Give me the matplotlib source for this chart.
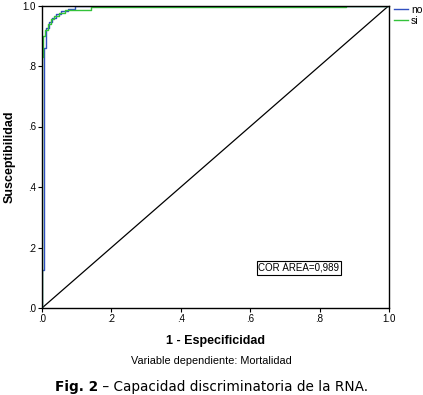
import matplotlib

matplotlib.use("Agg")
import matplotlib.pyplot as plt

# ROC steps (1 - especificidad, susceptibilidad)
no_fpr = [0.0, 0.0, 0.005, 0.005, 0.012, 0.012, 0.02, 0.02, 0.03, 0.03, 0.04, 0.04,
          0.055, 0.055, 0.075, 0.075, 0.095, 0.095, 1.0]
no_tpr = [0.0, 0.125, 0.125, 0.86, 0.86, 0.925, 0.925, 0.945, 0.945, 0.96, 0.96, 0.972,
          0.972, 0.982, 0.982, 0.99, 0.99, 1.0, 1.0]
si_fpr = [0.0, 0.0, 0.003, 0.003, 0.01, 0.01, 0.016, 0.016, 0.025, 0.025, 0.035, 0.035,
          0.05, 0.05, 0.065, 0.065, 0.14, 0.14, 0.875, 0.875, 1.0]
si_tpr = [0.0, 0.83, 0.83, 0.9, 0.9, 0.92, 0.92, 0.94, 0.94, 0.955, 0.955, 0.965,
          0.965, 0.975, 0.975, 0.985, 0.985, 0.994, 0.994, 1.0, 1.0]
series = ["no", "si"]
ticks = [0.0, 0.2, 0.4, 0.6, 0.8, 1.0]
tick_labels = [".0", ".2", ".4", ".6", ".8", "1.0"]
area_text = "COR ÁREA=0,989"

plt.rcParams["font.family"] = ["Liberation Sans", "DejaVu Sans"]

fig = plt.figure(figsize=(4.23, 3.95), dpi=100)
ax = fig.add_axes([42 / 423, 87 / 395, 347 / 423, 302.5 / 395])

ax.plot(no_fpr, no_tpr, color="#3050c0", lw=1.0, label=series[0], zorder=3)
ax.plot(si_fpr, si_tpr, color="#33c23a", lw=1.0, label=series[1], zorder=3)
ax.plot([0, 1], [0, 1], color="black", lw=0.9, zorder=2)

ax.set_xlim(0, 1)
ax.set_ylim(0, 1)
ax.set_xticks(ticks)
ax.set_xticklabels(tick_labels)
ax.set_yticks(ticks)
ax.set_yticklabels(tick_labels)
ax.tick_params(direction="out", length=3, width=0.8, labelsize=7, pad=1.5)
for sp in ax.spines.values():
    sp.set_linewidth(1.0)
    sp.set_color("black")
    sp.set_zorder(4)

ax.set_xlabel("1 - Especificidad", fontsize=9, fontweight="bold", labelpad=8)
ax.set_ylabel("Susceptibilidad", fontsize=9, fontweight="bold", labelpad=5)

ax.text(0.74, 0.132, area_text, fontsize=7, ha="center", va="center",
        bbox=dict(boxstyle="square,pad=0.15", fc="white", ec="black", lw=0.8))

ax.legend(loc="upper left", bbox_to_anchor=(1.0, 1.02), frameon=False,
          fontsize=7.5, handlelength=1.3, handletextpad=0.3,
          labelspacing=0.1, borderaxespad=0.1)

fig.text(211 / 423, 1 - 361 / 395, "Variable dependiente: Mortalidad",
         fontsize=7.8, ha="center", va="center")

# caption: bold "Fig. 2" followed by regular text
cap_y = 1 - 387 / 395
fig.canvas.draw()
r = fig.canvas.get_renderer()
t1 = fig.text(0, cap_y, "Fig. 2", fontsize=9.8, fontweight="bold",
              family="DejaVu Sans", va="center")
t2 = fig.text(0, cap_y, " – Capacidad discriminatoria de la RNA.", fontsize=9.8,
              family="DejaVu Sans", va="center")
w1 = t1.get_window_extent(r).width
w2 = t2.get_window_extent(r).width
x0 = (fig.bbox.width - w1 - w2) / 2
t1.set_x(x0 / fig.bbox.width)
t2.set_x((x0 + w1) / fig.bbox.width)

fig.savefig("out.png", dpi=100)
